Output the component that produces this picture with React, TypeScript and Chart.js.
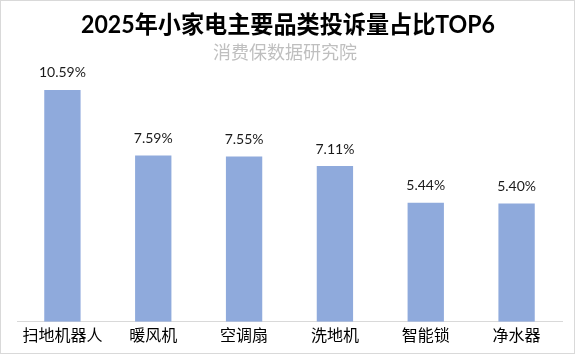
import React, { useEffect, useRef } from "react";
import { Chart, registerables } from "chart.js";

Chart.register(...registerables);

const categories = ["扫地机器人", "暖风机", "空调扇", "洗地机", "智能锁", "净水器"];
const shares = [10.59, 7.59, 7.55, 7.11, 5.44, 5.4];
const titleText = "2025年小家电主要品类投诉量占比TOP6";
const subtitleText = "消费保数据研究院";

const W = 576;
const H = 355;

const textPlugin = {
  id: "textPlugin",
  afterDatasetsDraw(chart: any) {
    const ctx = chart.ctx;
    ctx.save();
    // title
    ctx.textAlign = "center";
    ctx.textBaseline = "middle";
    ctx.fillStyle = "#000000";
    ctx.font = "bold 24px Lato, 'Noto Sans CJK SC'";
    ctx.fillText(titleText, W / 2, 25, 414);
    ctx.fillStyle = "#bfbfbf";
    ctx.font = "18px 'Noto Sans CJK SC'";
    ctx.fillText(subtitleText, W / 2 - 3, 52);
    // data labels
    const meta = chart.getDatasetMeta(0);
    ctx.fillStyle = "#1a1a1a";
    ctx.font = "14px Lato, 'Noto Sans'";
    meta.data.forEach((bar: any, i: number) => {
      const v = chart.data.datasets[0].data[i] as number;
      ctx.fillText(v.toFixed(2) + "%", bar.x, bar.y - 17);
    });
    ctx.restore();
  },
};

export default function App() {
  const ref = useRef<HTMLCanvasElement | null>(null);
  useEffect(() => {
    document.body.style.margin = "0";
    const chart = new Chart(ref.current as HTMLCanvasElement, {
      type: "bar",
      data: {
        labels: categories,
        datasets: [
          {
            data: shares,
            backgroundColor: "#8faadc",
            barPercentage: 0.4,
            categoryPercentage: 1,
          },
        ],
      },
      options: {
        responsive: false,
        animation: false,
        layout: { padding: { top: 59, left: 17, right: 14, bottom: 6 } },
        plugins: {
          legend: { display: false },
          title: { display: false },
          tooltip: { enabled: false },
        },
        scales: {
          x: {
            grid: { display: false, drawTicks: false },
            border: { display: true, color: "#d9d9d9", width: 1 },
            ticks: {
              color: "#000000",
              padding: 4,
              font: { family: "'Noto Sans CJK SC'", size: 16 },
            },
          },
          y: {
            display: false,
            min: 0,
            max: 12,
          },
        },
      },
      plugins: [textPlugin],
    });
    return () => chart.destroy();
  }, []);
  return (
    <div style={{ position: "absolute", left: 0, top: 0, width: W, height: H }}>
      <canvas ref={ref} width={W} height={H} style={{ display: "block" }} />
      <div
        style={{
          position: "absolute",
          left: 0,
          top: 0,
          width: 575,
          height: 354,
          border: "1px solid #d9d9d9",
          boxSizing: "border-box",
          pointerEvents: "none",
        }}
      />
    </div>
  );
}
